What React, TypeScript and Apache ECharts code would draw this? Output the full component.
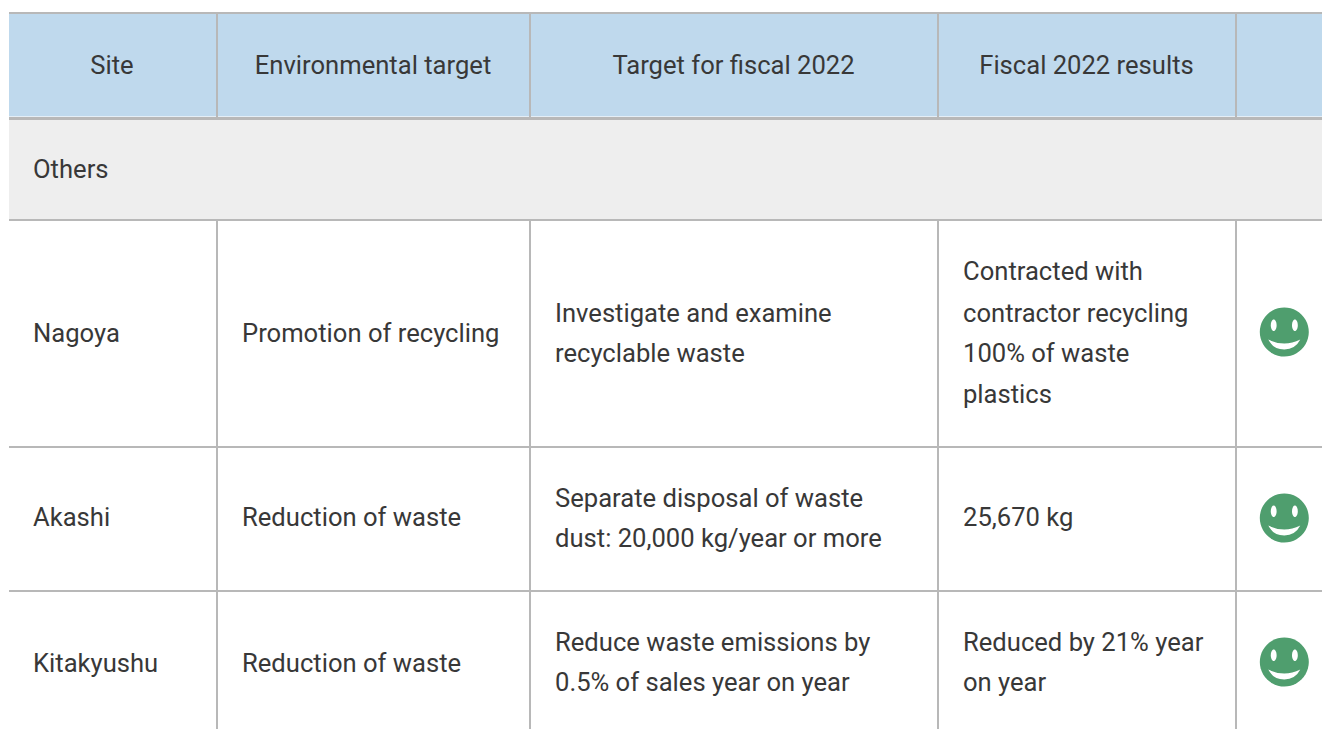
import React, { useEffect, useRef } from "react";
import * as echarts from "echarts";

const columnHeaders = ["Site", "Environmental target", "Target for fiscal 2022", "Fiscal 2022 results"];
const groupLabel = "Others";
const sites = ["Nagoya", "Akashi", "Kitakyushu"];
const targets = ["Promotion of recycling", "Reduction of waste", "Reduction of waste"];
const fiscalTargets = [
  ["Investigate and examine", "recyclable waste"],
  ["Separate disposal of waste", "dust: 20,000 kg/year or more"],
  ["Reduce waste emissions by", "0.5% of sales year on year"],
];
const fiscalResults = [
  ["Contracted with", "contractor recycling", "100% of waste", "plastics"],
  ["25,670 kg"],
  ["Reduced by 21% year", "on year"],
];

const FONT = "Roboto";
const FS = 25.6;
const TEXT = "#383838";
const LINE = "#b8b8b8";
const GREEN = "#4f9e6e";

const colEdges = [8, 217, 530, 938, 1236, 1322];
const rowEdges = [13, 118, 220, 447, 591, 729];
const rowMid = [333, 517, 663];
const smileY = [332, 518, 662];
const lineYs: number[][][] = [
  [[313, 353], [498, 538], [642, 682]],
  [[271, 313, 353, 394], [517], [642, 682]],
];

echarts.graphic.registerShape(
  "smileMouth",
  echarts.graphic.extendPath("M-16 7.6 Q0 15.5 16 7.6 Q11 17.5 0 17.5 Q-11 17.5 -16 7.6Z", {}) as any
);

function text(str: string, x: number, y: number, align = "left") {
  return {
    type: "text",
    x,
    y,
    silent: true,
    style: { text: str, fontFamily: FONT, fontSize: FS, fill: TEXT, align, verticalAlign: "middle" },
  };
}

function smile(cx: number, cy: number) {
  return {
    type: "group",
    children: [
      { type: "circle", shape: { cx, cy, r: 24.5 }, style: { fill: GREEN } },
      { type: "ellipse", shape: { cx: cx - 10.6, cy: cy - 6.7, rx: 2.9, ry: 5.8 }, style: { fill: "#fff" } },
      { type: "ellipse", shape: { cx: cx + 10.6, cy: cy - 6.7, rx: 2.9, ry: 5.8 }, style: { fill: "#fff" } },
      { type: "smileMouth", x: cx, y: cy, style: { fill: "#fff" } },
    ],
  };
}

function buildGraphic() {
  const els: any[] = [];
  const W = 1322;
  const L = 9;
  els.push({ type: "rect", shape: { x: L, y: rowEdges[0], width: W - L, height: rowEdges[1] - rowEdges[0] }, style: { fill: "#bfd9ed" } });
  els.push({ type: "rect", shape: { x: L, y: rowEdges[1], width: W - L, height: rowEdges[2] - rowEdges[1] }, style: { fill: "#eeeeee" } });
  rowEdges.slice(0, 5).forEach((y, i) => {
    els.push({
      type: "rect",
      shape: { x: L, y: y - 1, width: W - L, height: i === 1 ? 3 : 2 },
      style: { fill: LINE },
    });
  });
  els.push({ type: "rect", shape: { x: L, y: 116, width: W - L, height: 1 }, style: { fill: "#e4eef6" } });
  colEdges.slice(1, 5).forEach((x) => {
    els.push({ type: "rect", shape: { x: x - 1, y: rowEdges[0], width: 2, height: rowEdges[1] - rowEdges[0] }, style: { fill: LINE } });
    els.push({ type: "rect", shape: { x: x - 1, y: rowEdges[2], width: 2, height: 729 - rowEdges[2] }, style: { fill: LINE } });
  });
  columnHeaders.forEach((h, i) => {
    els.push(text(h, (colEdges[i] + colEdges[i + 1]) / 2 - 0.5, 65, "center"));
  });
  els.push(text(groupLabel, 33, 169));
  sites.forEach((s, i) => {
    els.push(text(s, 33, rowMid[i]));
    els.push(text(targets[i], 242, rowMid[i]));
    fiscalTargets[i].forEach((l, j) => els.push(text(l, 555, lineYs[0][i][j])));
    fiscalResults[i].forEach((l, j) => els.push(text(l, 963, lineYs[1][i][j])));
    els.push(smile(1284.3, smileY[i]));
  });
  return els;
}

export default function App() {
  const ref = useRef<HTMLDivElement>(null);
  useEffect(() => {
    document.body.style.margin = "0";
    const chart = echarts.init(ref.current!, undefined, { renderer: "svg" });
    chart.setOption({ animation: false, backgroundColor: "#ffffff", graphic: { elements: buildGraphic() } });
    return () => chart.dispose();
  }, []);
  return <div ref={ref} style={{ width: 1322, height: 729 }} />;
}
